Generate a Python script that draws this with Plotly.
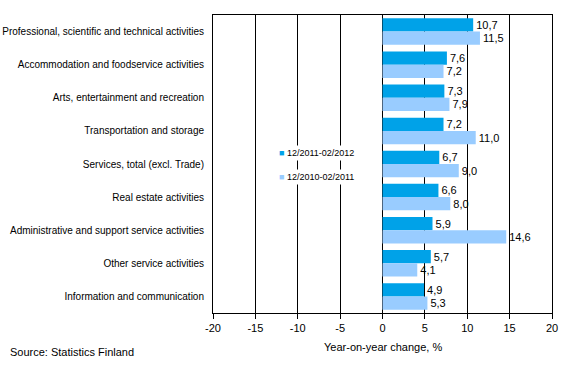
import plotly.graph_objects as go

categories = [
    "Professional, scientific and technical activities",
    "Accommodation and foodservice activities",
    "Arts, entertainment and recreation",
    "Transportation and storage",
    "Services, total (excl. Trade)",
    "Real estate activities",
    "Administrative and support service activities",
    "Other service activities",
    "Information and communication",
]
series1_name = "12/2011-02/2012"
series1 = [10.7, 7.6, 7.3, 7.2, 6.7, 6.6, 5.9, 5.7, 4.9]
series2_name = "12/2010-02/2011"
series2 = [11.5, 7.2, 7.9, 11.0, 9.0, 8.0, 14.6, 4.1, 5.3]
tick_vals = [-20, -15, -10, -5, 0, 5, 10, 15, 20]

font = "Liberation Sans, Arial, sans-serif"
color1 = "#00A2E8"
color2 = "#99CCFF"

W, H = 569, 374
L, R, T, B = 213, 17, 15, 61
PW, PH = W - L - R, H - T - B


def px(x, y):
    """Window pixel -> paper coords."""
    return (x - L) / PW, (T + PH - y) / PH


def fmt(v):
    return f"{v:.1f}".replace(".", ",")


fig = go.Figure()
fig.add_trace(go.Bar(
    y=categories, x=series1, name=series1_name, orientation="h",
    marker=dict(color=color1, line=dict(width=0)),
    text=[fmt(v) for v in series1], textposition="outside",
    textfont=dict(size=11, color="black", family=font), cliponaxis=False,
))
fig.add_trace(go.Bar(
    y=categories, x=series2, name=series2_name, orientation="h",
    marker=dict(color=color2, line=dict(width=0)),
    text=[fmt(v) for v in series2], textposition="outside",
    textfont=dict(size=11, color="black", family=font), cliponaxis=False,
))

ax_t, ay_t = px(383, 347)
ax_s, ay_s = px(8, 352)
lx1, ly1 = px(276, 153)
lx2, ly2 = px(276, 177)

fig.update_layout(
    width=W, height=H,
    margin=dict(l=L, r=R, t=T, b=B, autoexpand=False),
    paper_bgcolor="white", plot_bgcolor="white",
    barmode="group", bargap=0.2, bargroupgap=0,
    font=dict(family=font, size=11, color="black"),
    showlegend=False,
    xaxis=dict(range=[-20, 20], tickvals=tick_vals, ticktext=[str(v) for v in tick_vals],
               showgrid=True, gridcolor="black", gridwidth=1, zeroline=False,
               showline=True, linecolor="black", linewidth=1, mirror=True,
               ticks="outside", ticklen=5, tickcolor="black",
               tickfont=dict(size=11), automargin=False),
    yaxis=dict(autorange="reversed", showgrid=False, showline=True, linecolor="black",
               linewidth=1, mirror=True, ticks="", tickfont=dict(size=10),
               ticklabelstandoff=6, automargin=False),
    annotations=[
        dict(text="Year-on-year change, %", x=ax_t, y=ay_t, xref="paper", yref="paper",
             xanchor="center", yanchor="middle", showarrow=False, font=dict(size=11)),
        dict(text="Source: Statistics Finland", x=ax_s, y=ay_s, xref="paper", yref="paper",
             xanchor="left", yanchor="middle", showarrow=False, font=dict(size=11)),
        dict(text=f'<span style="color:{color1}">■</span> {series1_name}',
             x=lx1, y=ly1, xref="paper", yref="paper", xanchor="left", yanchor="middle",
             showarrow=False, font=dict(size=9), bgcolor="white", borderpad=2),
        dict(text=f'<span style="color:{color2}">■</span> {series2_name}',
             x=lx2, y=ly2, xref="paper", yref="paper", xanchor="left", yanchor="middle",
             showarrow=False, font=dict(size=9), bgcolor="white", borderpad=2),
    ],
)
fig.write_html("out.html", config={"displayModeBar": False},
               post_script="document.body.style.margin='0px';")
